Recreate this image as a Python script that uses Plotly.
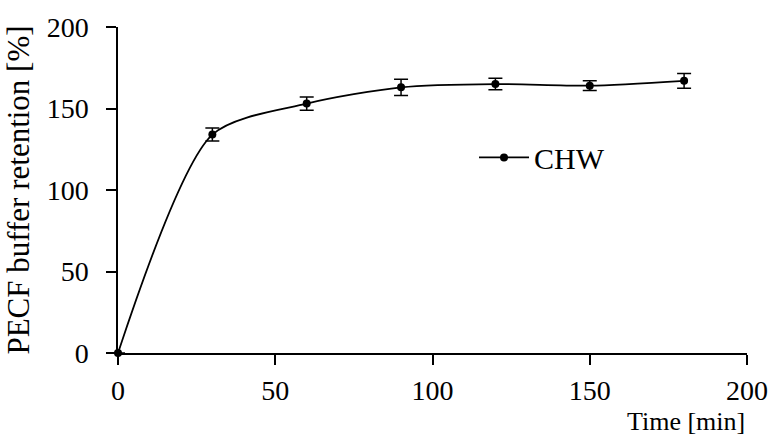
import plotly.graph_objects as go

# Sampling times and PECF buffer retention (mean ± SD)
time_min = [0, 30, 60, 90, 120, 150, 180]
retention_pct = [0, 134, 153, 163, 165, 164, 167]
retention_sd = [0, 4, 4, 5, 3.5, 3, 4.5]

series_name = "CHW"
x_ticks = [0, 50, 100, 150, 200]
y_ticks = [0, 50, 100, 150, 200]

FONT = "Liberation Serif"

fig = go.Figure()
fig.add_trace(go.Scatter(
    x=time_min,
    y=retention_pct,
    name=series_name,
    mode="lines+markers",
    line=dict(color="black", width=1.8, shape="spline", smoothing=0.75),
    marker=dict(color="black", size=8, symbol="circle"),
    error_y=dict(type="data", array=retention_sd, visible=True,
                 color="black", thickness=1.5, width=7),
    cliponaxis=False,
))

axis_common = dict(
    showline=True, linecolor="black", linewidth=1.5,
    ticks="outside", ticklen=10, tickwidth=1.5, tickcolor="black",
    showgrid=False, zeroline=False,
    tickfont=dict(family=FONT, size=28, color="black"),
    tickmode="array",
    ticklabeloverflow="allow",
)

fig.update_xaxes(range=[0, 200], tickvals=x_ticks, ticklabelstandoff=2,
                 **axis_common)
fig.update_yaxes(range=[0, 200], tickvals=y_ticks, ticklabelstandoff=12,
                 title=dict(text="PECF buffer retention [%]",
                            font=dict(family=FONT, size=31, color="black"),
                            standoff=8),
                 **axis_common)

fig.add_annotation(
    text="Time [min]", xref="paper", yref="paper",
    x=1.0, y=-0.158, xanchor="right", yanchor="top",
    showarrow=False,
    font=dict(family=FONT, size=26, color="black"),
)

fig.update_layout(
    width=780, height=437,
    margin=dict(l=118, r=22, t=24, b=84),
    paper_bgcolor="white", plot_bgcolor="white",
    showlegend=True,
    legend=dict(x=0.566, y=0.6, xanchor="left", yanchor="middle",
                bgcolor="rgba(0,0,0,0)", itemwidth=50,
                font=dict(family=FONT, size=30, color="black")),
)

fig.write_html("out.html")
